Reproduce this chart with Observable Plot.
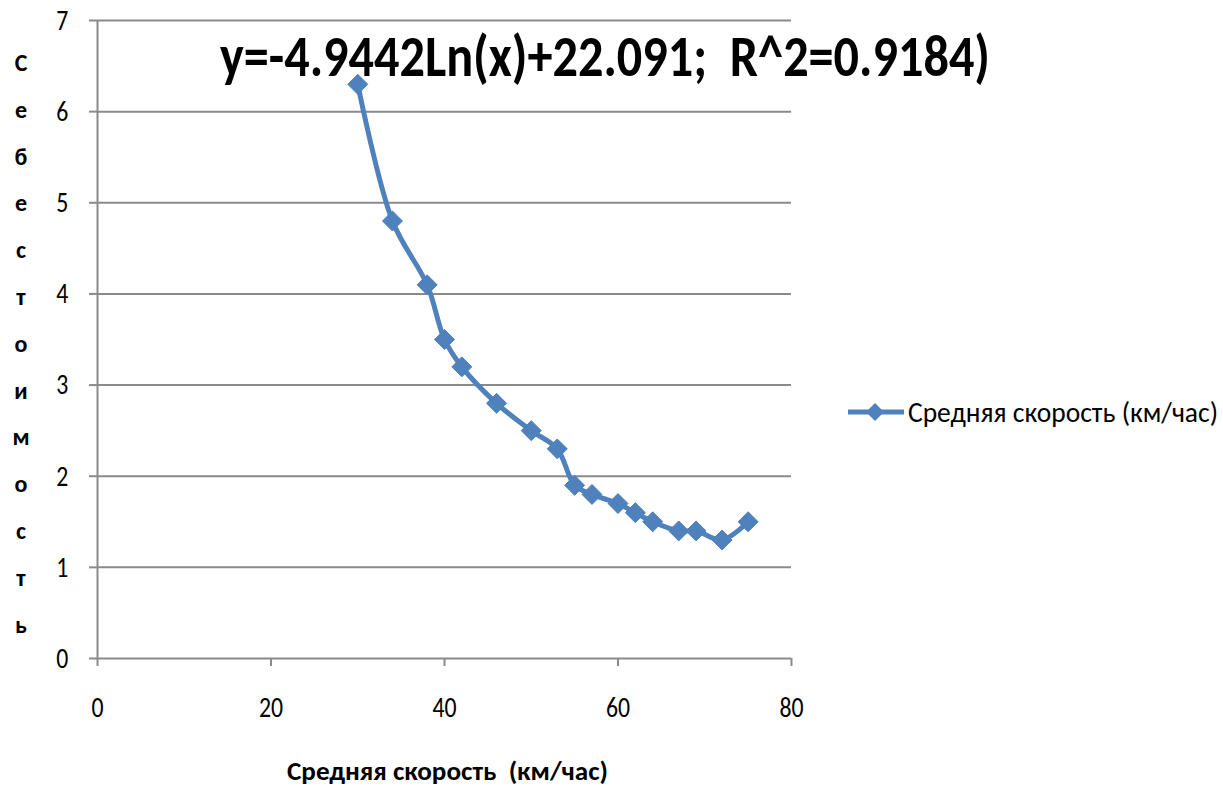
<!DOCTYPE html>
<html><head><meta charset="utf-8">
<script src="https://cdn.jsdelivr.net/npm/d3@7"></script>
<script src="https://cdn.jsdelivr.net/npm/@observablehq/plot@0.6"></script>
<style>
html,body{margin:0;padding:0;background:#fff;}
#wrap{position:relative;width:1223px;height:788px;overflow:hidden;font-family:Carlito,"Liberation Sans Narrow","Open Sans",sans-serif;}
#wrap > svg{position:absolute;left:0;top:0;}
.ov{position:absolute;white-space:pre;color:#000;transform-origin:0 0;line-height:1;}
#title{font-size:58px;font-weight:bold;}
#xlabel{font-size:27px;font-weight:bold;}
#ylabel{left:6px;top:40px;width:30px;font-size:24px;font-weight:bold;text-align:center;line-height:46.8px;white-space:normal;}
#legtext{font-size:29px;}
#legsym{position:absolute;left:848px;top:400px;}
</style></head>
<body>
<div id="wrap"></div>
<script>
const speed = [30,34,38,40,42,46,50,53,55,57,60,62,64,67,69,72,75];
const cost  = [6.3,4.8,4.1,3.5,3.2,2.8,2.5,2.3,1.9,1.8,1.7,1.6,1.5,1.4,1.4,1.3,1.5];
const xTicks = [0,20,40,60,80];
const yTicks = [0,1,2,3,4,5,6,7];
const titleText = "y=-4.9442Ln(x)+22.091;  R^2=0.9184)";
const xLabel = "Средняя скорость  (км/час)";
const yLabel = "Себестоимость";
const seriesName = "Средняя скорость (км/час)";
const blue = "#4F81BD";
const grey = "#8a8a8a";

const data = speed.map((s,i)=>({x:s,y:cost[i]}));

const chart = Plot.plot({
  width:1223, height:788,
  marginLeft:97, marginRight:432, marginTop:20, marginBottom:130,
  style:{fontFamily:'Carlito,"Liberation Sans Narrow","Open Sans",sans-serif', fontSize:"29px", background:"transparent"},
  x:{domain:[0,80], label:null},
  y:{domain:[0,7], label:null},
  marks:[
    Plot.ruleY(yTicks.filter(d=>d>0), {stroke:grey, strokeWidth:2}),
    Plot.ruleX([0], {stroke:grey, strokeWidth:2}),
    Plot.ruleY([0], {stroke:grey, strokeWidth:2}),
    Plot.axisX({ticks:xTicks, tickFormat:"d", tickSize:8, tickPadding:30, stroke:grey, strokeWidth:2, fill:"#000", fontSize:29}),
    Plot.axisY({ticks:yTicks, tickFormat:"d", tickSize:8, tickPadding:20, stroke:grey, strokeWidth:2, fill:"#000", fontSize:29}),
    Plot.line(data, {x:"x", y:"y", stroke:blue, strokeWidth:5, curve:"catmull-rom"}),
    Plot.dot(data, {x:"x", y:"y", symbol:"diamond2", r:9, fill:blue, stroke:blue, strokeWidth:1})
  ]
});
const wrap = document.getElementById("wrap");
wrap.appendChild(chart);

// horizontally condense tick labels about their own centre
const K = 0.82;
chart.querySelectorAll("g[aria-label$='tick label'] text").forEach(t=>{
  const b = t.getBBox();
  let cx = b.x + b.width/2, cy = b.y + b.height/2;
  const m = t.transform.baseVal.consolidate();
  if (m) { const mm = m.matrix; const nx = mm.a*cx+mm.c*cy+mm.e; const ny = mm.b*cx+mm.d*cy+mm.f; cx = nx; cy = ny; }
  const g = document.createElementNS("http://www.w3.org/2000/svg","g");
  g.setAttribute("transform", `translate(${cx},0) scale(${K},1) translate(${-cx},0)`);
  t.parentNode.insertBefore(g, t); g.appendChild(t);
});

function add(id, html, left, top, width){
  const d=document.createElement("div");d.className="ov";d.id=id;d.innerHTML=html;
  d.style.left=left+"px"; d.style.top=top+"px"; wrap.appendChild(d);
  if (width) { const w = d.getBoundingClientRect().width; d.style.transform=`scaleX(${width/w})`; }
  return d;
}
add("title", titleText, 220, 28, 770);
add("xlabel", xLabel, 287, 757, 321);
add("ylabel", yLabel.split("").join("<br>"));
add("legtext", seriesName, 908, 398, 310);
const ls = document.createElement("div"); ls.id="legsym";
ls.innerHTML = `<svg width="56" height="24"><line x1="0" y1="12" x2="56" y2="12" stroke="${blue}" stroke-width="5"/><path d="M27,3 L36,12 L27,21 L18,12 Z" fill="${blue}"/></svg>`;
wrap.appendChild(ls);
</script>
</body></html>
